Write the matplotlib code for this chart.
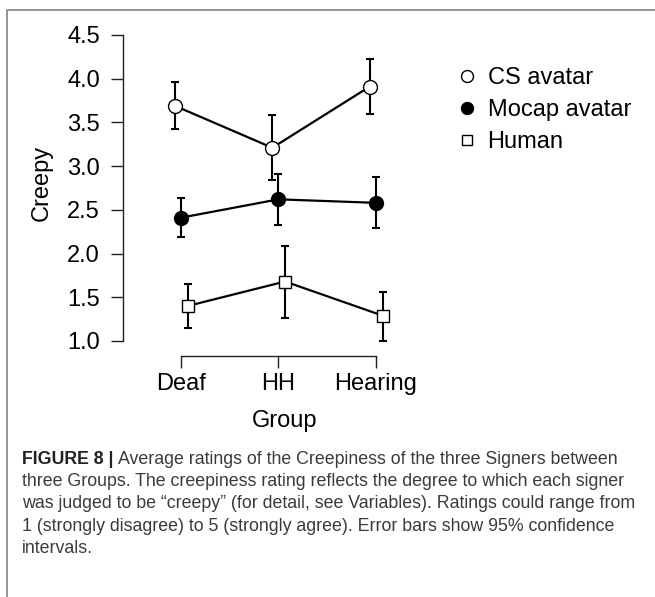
import matplotlib
matplotlib.use('Agg')
import matplotlib.pyplot as plt
from matplotlib.lines import Line2D
from matplotlib import font_manager as fm
import numpy as np

# ---------------- data ----------------
groups = ['Deaf', 'HH', 'Hearing']
series = ['CS avatar', 'Mocap avatar', 'Human']

cs_mean = [3.69, 3.21, 3.91]
cs_low = [3.42, 2.84, 3.60]
cs_high = [3.96, 3.59, 4.23]

mocap_mean = [2.41, 2.62, 2.58]
mocap_low = [2.19, 2.33, 2.29]
mocap_high = [2.63, 2.91, 2.87]

human_mean = [1.40, 1.68, 1.29]
human_low = [1.15, 1.26, 1.00]
human_high = [1.65, 2.09, 1.56]

yticks = [1.0, 1.5, 2.0, 2.5, 3.0, 3.5, 4.0, 4.5]
ytick_labels = ['1.0', '1.5', '2.0', '2.5', '3.0', '3.5', '4.0', '4.5']

caption_bold = 'FIGURE 8 |'
caption_lines = [
    'Average ratings of the Creepiness of the three Signers between',
    'three Groups. The creepiness rating reflects the degree to which each signer',
    'was judged to be \u201ccreepy\u201d (for detail, see Variables). Ratings could range from',
    '1 (strongly disagree) to 5 (strongly agree). Error bars show 95% confidence',
    'intervals.',
]

# ---------------- style ----------------
plt.rcParams['font.family'] = ['Liberation Sans', 'DejaVu Sans']
FS = 17
W, H = 655, 597
fig = plt.figure(figsize=(W / 100, H / 100), dpi=100)
fig.patch.set_facecolor('white')

ax = fig.add_axes([123 / W, 1 - 356 / H, (450 - 123) / W, (356 - 30) / H])
ax.set_xlim(-0.595, 2.76)
ax.set_ylim(0.828, 4.557)

x = np.arange(len(groups))
offsets = [-0.063, 0.0, 0.068]
means = [cs_mean, mocap_mean, human_mean]
lows = [cs_low, mocap_low, human_low]
highs = [cs_high, mocap_high, human_high]
markers = ['o', 'o', 's']
facecols = ['white', 'black', 'white']
msizes = [10, 10, 8.6]

for m, lo, hi, off, mk, fc, ms in zip(means, lows, highs, offsets, markers, facecols, msizes):
    m = np.array(m)
    yerr = [m - np.array(lo), np.array(hi) - m]
    ax.errorbar(x + off, m, yerr=yerr, fmt='none', ecolor='black',
                elinewidth=1.5, capsize=2.6, capthick=1.5, zorder=2)
    ax.plot(x + off, m, color='black', lw=1.6, marker=mk, markersize=ms,
            markerfacecolor=fc, markeredgecolor='black', markeredgewidth=1.0, zorder=3)

for s in ['top', 'right']:
    ax.spines[s].set_visible(False)
ax.spines['left'].set_bounds(1.0, 4.5)
ax.spines['bottom'].set_bounds(0, 2)
for s in ['left', 'bottom']:
    ax.spines[s].set_linewidth(1.0)
    ax.spines[s].set_color('#222222')

ax.set_yticks(yticks)
ax.set_yticklabels(ytick_labels)
ax.set_xticks(x)
ax.set_xticklabels(groups)
ax.tick_params(axis='both', direction='out', length=8.6, width=1.0, color='#222222',
               labelsize=FS)
ax.tick_params(axis='y', pad=8)
ax.tick_params(axis='x', pad=3.5)

ax.set_ylabel('Creepy', fontsize=FS)
ax.yaxis.label.set_va('center')
ax.yaxis.set_label_coords((42 - 123) / 327, (356 - 183) / 326)
ax.set_xlabel('Group', fontsize=FS)
ax.xaxis.label.set_va('center')
ax.xaxis.set_label_coords((285 - 123) / 327, (356 - 421) / 326)

handles = [
    Line2D([], [], ls='none', marker='o', markersize=8.6, markerfacecolor='white',
           markeredgecolor='black', markeredgewidth=1.0),
    Line2D([], [], ls='none', marker='o', markersize=8.6, markerfacecolor='black',
           markeredgecolor='black', markeredgewidth=1.0),
    Line2D([], [], ls='none', marker='s', markersize=7.2, markerfacecolor='white',
           markeredgecolor='black', markeredgewidth=1.0),
]
ax.legend(handles, series, loc='upper left', bbox_to_anchor=(455.5 / W, 1 - 67 / H),
          bbox_transform=fig.transFigure, frameon=False, borderpad=0, borderaxespad=0,
          handlelength=0.98, handletextpad=0.38, labelspacing=0.42, fontsize=FS)

# ---------------- frame ----------------
fig.add_artist(Line2D([7 / W, 7 / W, 1.0], [0.0, 1 - 10 / H, 1 - 10 / H],
                      transform=fig.transFigure, color='#8c8c8c', lw=1.3))

# ---------------- caption ----------------
names = {f.name for f in fm.fontManager.ttflist}
cap_family = 'Liberation Sans Narrow' if 'Liberation Sans Narrow' in names else 'Liberation Sans'
renderer = fig.canvas.get_renderer()
probe = fig.text(0, 0, caption_lines[2], fontsize=10, family=cap_family)
w10 = probe.get_window_extent(renderer).width
probe.remove()
cap_fs = 10 * 617 / w10

x0 = 22 / W
line_centers = [459, 481.5, 504, 526.5, 548.5]
tb = fig.text(x0, 1 - line_centers[0] / H, caption_bold, fontsize=cap_fs, family=cap_family,
              weight='bold', color='#222222', va='center')
bb = tb.get_window_extent(renderer)
space = cap_fs * 0.28 * 100 / 72
x1 = (bb.x1 + space) / W
for i, (line, yc) in enumerate(zip(caption_lines, line_centers)):
    fig.text(x1 if i == 0 else x0, 1 - yc / H, line, fontsize=cap_fs, family=cap_family,
             color='#3a3a3a', va='center')

fig.savefig('out.png', dpi=100)
